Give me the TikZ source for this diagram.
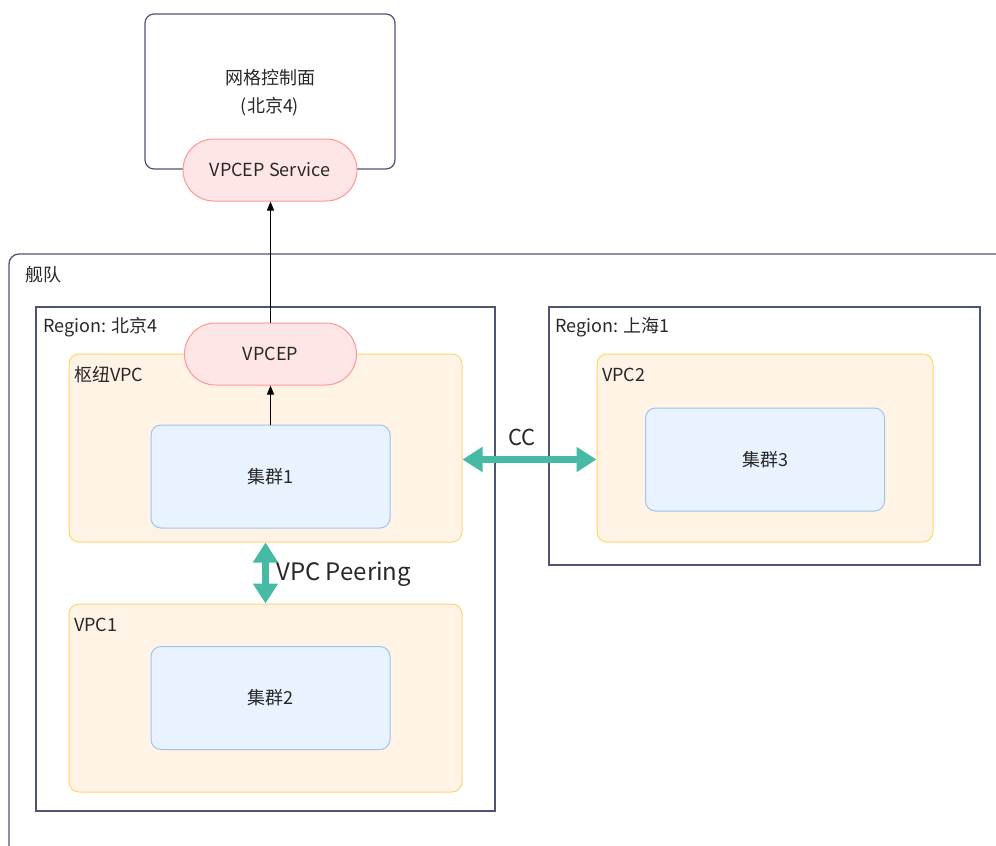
\documentclass[tikz,border=0pt]{standalone}
\usepackage{fontspec}
\setmainfont{Noto Sans CJK SC}
\usetikzlibrary{arrows.meta,positioning}
\definecolor{frame}{RGB}{78,84,118}
\definecolor{txt}{RGB}{40,40,40}
\definecolor{peachfill}{RGB}{255,243,230}
\definecolor{peachline}{RGB}{255,214,110}
\definecolor{redfill}{RGB}{255,230,230}
\definecolor{redline}{RGB}{255,150,150}
\definecolor{bluefill}{RGB}{233,242,255}
\definecolor{blueline}{RGB}{160,195,240}
\definecolor{teal}{RGB}{70,186,165}
\tikzset{
  every node/.style={text=txt, font=\fontsize{18}{28}\selectfont},
  regionbox/.style={draw=frame, line width=1.2pt, inner sep=0pt},
  vpcbox/.style={draw=peachline, fill=peachfill, line width=1pt, rounded corners=10pt, inner sep=0pt},
  clusterbox/.style={draw=blueline, fill=bluefill, line width=1pt, rounded corners=10pt, inner sep=0pt, minimum width=239pt, minimum height=103pt},
  pill/.style={draw=redline, fill=redfill, line width=1pt, rounded corners=30.9pt, inner sep=0pt, minimum height=62pt},
  tag/.style={anchor=west, inner sep=0pt},
  thinarrow/.style={-{Triangle[length=9pt,width=7pt]}, line width=0.9pt, black},
  bigarrow/.style={{Triangle[length=20pt,width=24pt]}-{Triangle[length=20pt,width=24pt]}, line width=7pt, teal},
}
\begin{document}
\begin{tikzpicture}[x=1pt,y=-1pt]
\useasboundingbox (0,0) rectangle (996,846);
\clip (0,0) rectangle (996,846);
% fleet
\draw[draw=frame, line width=1.3pt, rounded corners=10pt] (9,254) rectangle (1030,880);
\node[tag] (fleetlbl) at (25,275) {舰队};
% control plane
\node[draw=frame, line width=1.2pt, rounded corners=9pt, fill=white, minimum width=250pt, minimum height=155pt, inner sep=0pt] (ctrl) at (270,91.5) {};
\node[align=center] (ctrltxt) at (270,93) {网格控制面\\(北京4)};
\node[pill, minimum width=174pt] (svc) at (270,170) {VPCEP Service};
% region beijing
\node[regionbox, minimum width=459pt, minimum height=504pt] (rbj) at (265.5,559) {};
\node[tag] (rbjlbl) at (43,327) {Region: 北京4};
\node[vpcbox, minimum width=393pt, minimum height=188pt] (hub) at (265.5,448) {};
\node[tag] (hublbl) at (74,375) {枢纽VPC};
\node[clusterbox] (c1) at (270.5,476.5) {集群1};
\node[pill, minimum width=172pt] (vpcep) at (270.5,354) {VPCEP};
\node[vpcbox, minimum width=393pt, minimum height=188pt] (vpc1) at (265.5,698) {};
\node[tag] (vpc1lbl) at (74,625) {VPC1};
\node[clusterbox] (c2) at (270.5,698) {集群2};
% region shanghai
\node[regionbox, minimum width=431pt, minimum height=258pt] (rsh) at (764.5,436) {};
\node[tag] (rshlbl) at (555,327) {Region: 上海1};
\node[vpcbox, minimum width=336pt, minimum height=188pt] (vpc2) at (765,448) {};
\node[tag] (vpc2lbl) at (602,375) {VPC2};
\node[clusterbox] (c3) at (765,459.5) {集群3};
% connectors
\draw[thinarrow] (vpcep.north) -- (vpcep.north |- svc.south);
\draw[thinarrow] (c1.north -| vpcep.south) -- (vpcep.south);
\draw[bigarrow] (hub.east |- c3.center) -- (vpc2.west |- c3.center);
\node[font=\fontsize{22}{26}\selectfont] (cclbl) at (522,437) {CC};
\draw[bigarrow] (hub.south) -- (vpc1.north);
\node[tag, font=\fontsize{24}{28}\selectfont] (peerlbl) at (276,574) {VPC Peering};
\end{tikzpicture}
\end{document}
